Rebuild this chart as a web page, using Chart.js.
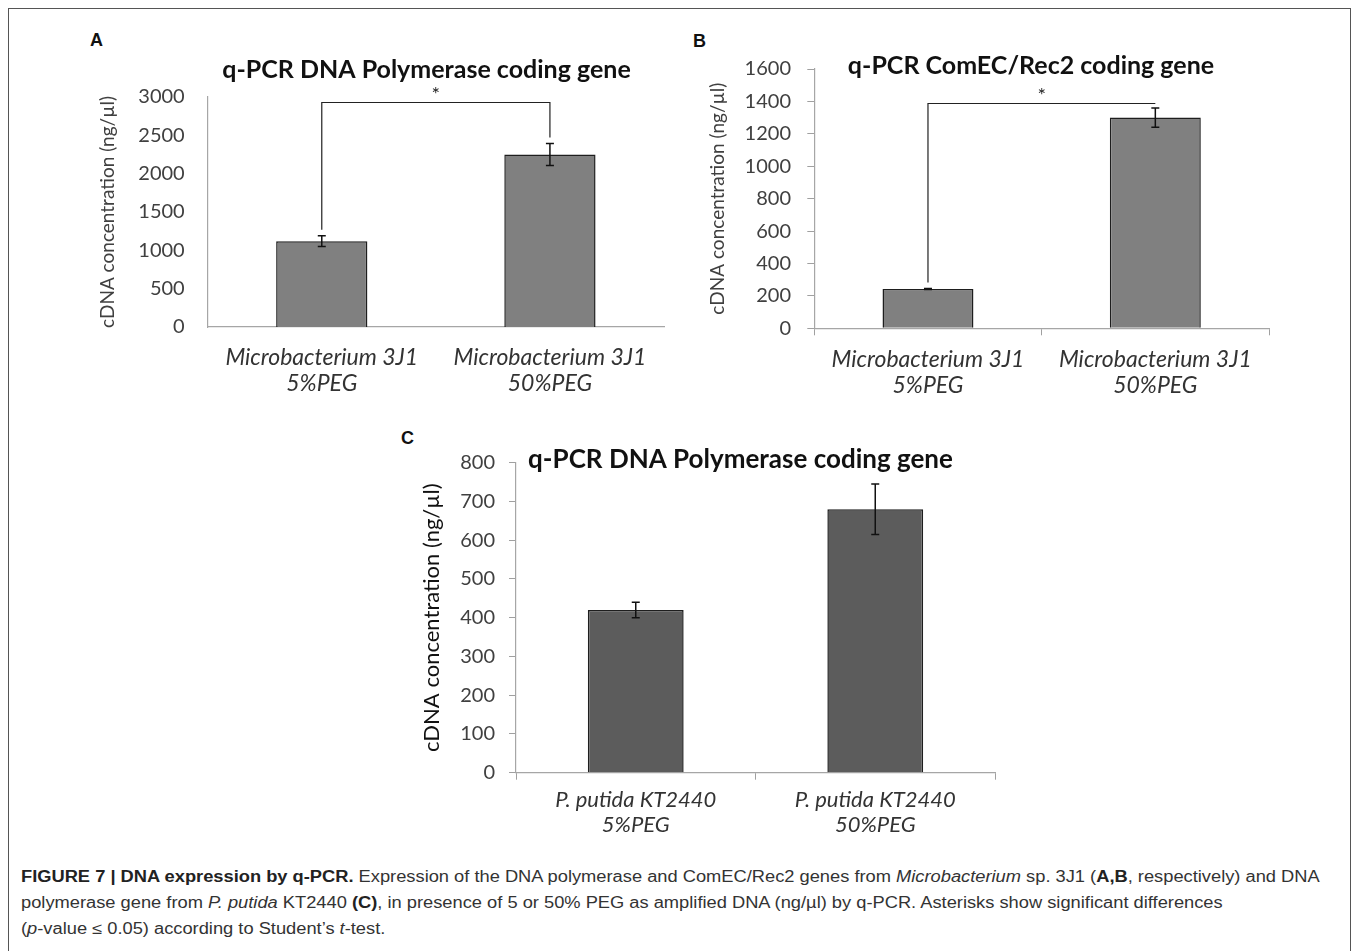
<!DOCTYPE html>
<html>
<head>
<meta charset="utf-8">
<script src="https://cdn.jsdelivr.net/npm/chart.js@4.4.0/dist/chart.umd.min.js"></script>
<style>
  body { margin: 0; background: #fff; width: 1358px; height: 951px; overflow: hidden; position: relative; }
  .frame { position: absolute; left: 8px; top: 8px; width: 1343px; height: 960px; border: 1px solid #555; box-sizing: border-box; }
  canvas { position: absolute; }
  .letter { position: absolute; font: bold 18px/18px "Liberation Sans", Arial, sans-serif; color: #111; }
  #caption { position: absolute; left: 21px; top: 864px; font: 16px/26px "Liberation Sans", Arial, sans-serif; color: #333; white-space: nowrap; transform-origin: 0 0; }
  #caption b { color: #222; }
</style>
</head>
<body>
<div class="frame"></div>
<div class="letter" style="left:90px;top:31px">A</div>
<div class="letter" style="left:693px;top:32px">B</div>
<div class="letter" style="left:401px;top:429px">C</div>
<canvas id="chartA" width="660" height="390" style="left:20px;top:20px"></canvas>
<canvas id="chartB" width="640" height="390" style="left:690px;top:20px"></canvas>
<canvas id="chartC" width="640" height="420" style="left:380px;top:420px"></canvas>
<div id="caption">
  <div id="cap1"><b>FIGURE 7 | DNA expression by q-PCR.</b> Expression of the DNA polymerase and ComEC/Rec2 genes from <i>Microbacterium</i> sp. 3J1 (<b>A,B</b>, respectively) and DNA</div>
  <div>polymerase gene from <i>P. putida</i> KT2440 <b>(C)</b>, in presence of 5 or 50% PEG as amplified DNA (ng/µl) by q-PCR. Asterisks show significant differences</div>
  <div>(<i>p</i>-value ≤ 0.05) according to Student’s <i>t</i>-test.</div>
</div>
<script>
// Panel A: DNA polymerase, Microbacterium 3J1
const catsA = [['Microbacterium 3J1', '5%PEG'], ['Microbacterium 3J1', '50%PEG']];
const valsA = [1120, 2250];
const errsA = [70, 143];
const ticksA = [0, 500, 1000, 1500, 2000, 2500, 3000];
const sigA = [2940];

// Panel B: ComEC/Rec2, Microbacterium 3J1
const catsB = [['Microbacterium 3J1', '5%PEG'], ['Microbacterium 3J1', '50%PEG']];
const valsB = [243, 1300];
const errsB = [3, 60];
const ticksB = [0, 200, 400, 600, 800, 1000, 1200, 1400, 1600];
const sigB = [1390];

// Panel C: DNA polymerase, P. putida KT2440
const catsC = [['P. putida KT2440', '5%PEG'], ['P. putida KT2440', '50%PEG']];
const valsC = [420, 680];
const errsC = [20, 65];
const ticksC = [0, 100, 200, 300, 400, 500, 600, 700, 800];

const yTitle = 'cDNA concentration (ng/µl)';

// error bars, significance bracket and chart title
function overlay(o) {
    return {
        id: 'overlay',
        afterDatasetsDraw(chart) {
            const ctx = chart.ctx;
            const x = chart.scales.x, y = chart.scales.y;
            ctx.save();
            ctx.strokeStyle = '#111';
            ctx.lineWidth = 1.5;
            o.vals.forEach((v, i) => {
                const cx = x.getPixelForValue(i);
                const t = y.getPixelForValue(v + o.errs[i]);
                const b = y.getPixelForValue(v - o.errs[i]);
                ctx.beginPath();
                ctx.moveTo(cx, t); ctx.lineTo(cx, b);
                ctx.moveTo(cx - 4, t); ctx.lineTo(cx + 4, t);
                ctx.moveTo(cx - 4, b); ctx.lineTo(cx + 4, b);
                ctx.stroke();
            });
            if (o.sig) {
                const top = Math.round(y.getPixelForValue(o.sig[0])) + 0.5;
                const legs = o.vals.map((v, i) => Math.max(top, y.getPixelForValue(v + o.errs[i]) - 6));
                const x0 = x.getPixelForValue(0), x1 = x.getPixelForValue(1);
                ctx.lineWidth = 1.2;
                ctx.strokeStyle = '#222';
                ctx.beginPath();
                ctx.moveTo(x0, legs[0]);
                ctx.lineTo(x0, top);
                ctx.lineTo(x1, top);
                ctx.lineTo(x1, legs[1]);
                ctx.stroke();
                ctx.fillStyle = '#222';
                ctx.font = '20px Lato';
                ctx.textAlign = 'center';
                ctx.textBaseline = 'middle';
                ctx.fillText('*', (x0 + x1) / 2, top - 8);
            }
            ctx.fillStyle = '#111';
            ctx.font = o.titleFont;
            ctx.textAlign = 'center';
            ctx.textBaseline = 'middle';
            ctx.fillText(o.title, o.tx, o.ty);
            ctx.restore();
        }
    };
}

function makeChart(id, c) {
    const ticked = c.ticks;
    return new Chart(document.getElementById(id), {
        type: 'bar',
        data: {
            labels: c.cats,
            datasets: [{
                data: c.vals,
                backgroundColor: c.color,
                borderColor: '#1e1e1e',
                borderWidth: 1.5,
                barPercentage: 0.4,
                categoryPercentage: 1
            }]
        },
        options: {
            responsive: false,
            animation: false,
            layout: { padding: c.pad },
            plugins: { legend: { display: false }, tooltip: { enabled: false } },
            scales: {
                x: {
                    afterFit: s => { s.height = c.xh; },
                    grid: { display: ticked, drawOnChartArea: false, tickLength: 7, color: '#a0a0a0', offset: true },
                    border: { color: '#a6a6a6', width: 1.2 },
                    ticks: {
                        autoRotate: false, maxRotation: 0, autoSkip: false,
                        padding: c.xpad, color: '#333',
                        font: { family: 'Lato', size: c.xfs, style: 'italic', lineHeight: c.xlh / c.xfs }
                    }
                },
                y: {
                    min: c.yTicks[0],
                    max: c.yTicks[c.yTicks.length - 1],
                    afterFit: s => { s.width = c.yw; },
                    grid: { display: ticked, drawOnChartArea: false, tickLength: 7, color: '#a0a0a0' },
                    border: { color: '#a6a6a6', width: 1.2 },
                    ticks: {
                        stepSize: c.yTicks[1] - c.yTicks[0],
                        padding: c.ypad, color: '#404040',
                        font: { family: 'Lato', size: 20 },
                        callback: v => String(v)
                    },
                    title: {
                        display: true, text: yTitle, color: c.ytColor,
                        padding: { top: c.ytPad, bottom: 0 },
                        font: { family: 'Lato', size: c.ytSize, lineHeight: 1.2 }
                    }
                }
            }
        },
        plugins: [overlay({ vals: c.vals, errs: c.errs, sig: c.sig, title: c.title, titleFont: c.titleFont, tx: c.tx, ty: c.ty })]
    });
}

makeChart('chartA', {
    cats: catsA, vals: valsA, errs: errsA, yTicks: ticksA, sig: sigA, color: '#808080', ticks: false,
    pad: { left: 0, top: 77, right: 16, bottom: 0 }, xh: 83, yw: 187.7, xpad: 11, xfs: 23, xlh: 26, ypad: 16,
    ytColor: '#404040', ytSize: 19, ytPad: 76.9,
    title: 'q-PCR DNA Polymerase coding gene', titleFont: 'bold 25px Lato', tx: 406.5, ty: 50
});

makeChart('chartB', {
    cats: catsB, vals: valsB, errs: errsB, yTicks: ticksB, sig: sigB, color: '#808080', ticks: true,
    pad: { left: 0, top: 49, right: 61, bottom: 0 }, xh: 81.7, yw: 124.3, xpad: 11.7, xfs: 23, xlh: 26, ypad: 16.3,
    ytColor: '#404040', ytSize: 19, ytPad: 16.6,
    title: 'q-PCR ComEC/Rec2 coding gene', titleFont: 'bold 25px Lato', tx: 341, ty: 46
});

makeChart('chartC', {
    cats: catsC, vals: valsC, errs: errsC, yTicks: ticksC, sig: null, color: '#5c5c5c', ticks: true,
    pad: { left: 0, top: 42.7, right: 25, bottom: 0 }, xh: 67.3, yw: 136, xpad: 7.8, xfs: 22, xlh: 25, ypad: 14,
    ytColor: '#111', ytSize: 22, ytPad: 38.5,
    title: 'q-PCR DNA Polymerase coding gene', titleFont: 'bold 26px Lato', tx: 360.5, ty: 40
});

// stretch caption so the first line fills the frame width
const cap = document.getElementById('caption');
const w1 = document.getElementById('cap1').scrollWidth;
cap.style.transform = 'scaleX(' + (1299 / w1) + ')';
</script>
</body>
</html>
